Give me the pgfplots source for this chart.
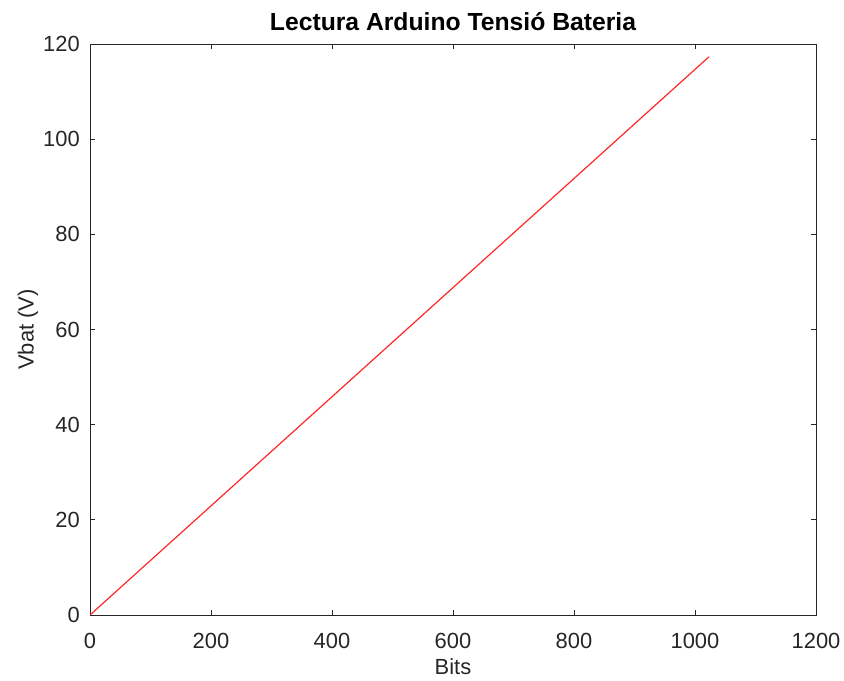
\documentclass[border=0pt]{standalone}
\usepackage{pgfplots}
\pgfplotsset{compat=1.18}
\usepackage{fontspec}
\setmainfont{Liberation Sans}
\definecolor{axgray}{RGB}{38,38,38}
\definecolor{linered}{RGB}{255,40,40}
\begin{document}
\begin{tikzpicture}
\begin{axis}[
  name=ax,
  scale only axis,
  width=726bp, height=571bp,
  xmin=0, xmax=1200, ymin=0, ymax=120,
  xtick={0,200,...,1200},
  ytick={0,20,...,120},
  tick align=inside,
  major tick length=5bp,
  axis line style={axgray, line width=0.8bp},
  tick style={axgray, line width=0.8bp},
  ticklabel style={font=\fontsize{22}{24}\selectfont, text=axgray, inner sep=0pt},
  /pgf/number format/assume math mode=true,
  /pgf/number format/1000 sep={},
  xticklabel style={anchor=base, yshift=-33bp},
  yticklabel style={anchor=east, xshift=-10bp},
]
\addplot[linered, line width=1.2bp] coordinates {(0,0) (1023,117.3)};
\end{axis}
\node[font=\fontsize{22}{24}\selectfont, text=axgray, inner sep=0pt] at ([yshift=-52bp]ax.south) {Bits};
\node[font=\fontsize{22}{24}\selectfont, text=axgray, inner sep=0pt, rotate=90] at ([xshift=-62bp]ax.west) {Vbat (V)};
\node[font=\bfseries\fontsize{24.8}{26}\selectfont, inner sep=0pt] at ([yshift=22bp]ax.north) {Lectura Arduino Tensió Bateria};
\pgfresetboundingbox
\path ([xshift=-90bp,yshift=-66bp]ax.south west) rectangle ([xshift=28bp,yshift=44bp]ax.north east);
\end{tikzpicture}
\end{document}
